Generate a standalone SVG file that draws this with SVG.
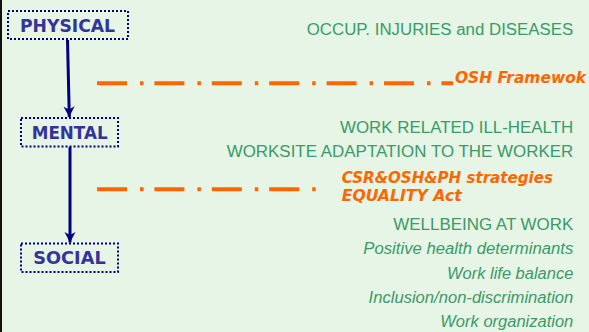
<svg xmlns="http://www.w3.org/2000/svg" width="589" height="332" viewBox="0 0 589 332">
<defs>
<style>
.box{fill:none;stroke:#000080;stroke-width:2;stroke-dasharray:2 2}
.lbl{font-family:"DejaVu Sans",Verdana,sans-serif;font-weight:bold;font-size:17px;fill:#333399}
.grn{font-family:"Liberation Sans",Arial,sans-serif;font-size:16.8px;fill:#3a9a68;text-anchor:end}
.it{font-style:italic}
.org{font-family:"DejaVu Sans",Verdana,sans-serif;font-weight:bold;font-style:italic;font-size:15px;fill:#ff6600}
.arrow{stroke:#000080;stroke-width:3;fill:none}
.dd{stroke:#ff6600;stroke-width:4;fill:none;stroke-dasharray:30 13 3.5 10.9}
</style>
<marker id="ah" markerWidth="12" markerHeight="12" viewBox="-11 -6 12 12" refX="0" refY="0" orient="auto" markerUnits="userSpaceOnUse">
<path d="M0,0 L-10.5,-5.5 L-7.5,0 L-10.5,5.5 Z" fill="#000080"/>
</marker>
</defs>
<rect x="0" y="0" width="589" height="332" fill="#e6f5e5"/>
<rect x="0" y="0" width="2" height="332" fill="#111"/>
<g id="connectors">
<line class="arrow" x1="67.5" y1="40" x2="69.3" y2="117" marker-end="url(#ah)"/>
<line class="arrow" x1="70" y1="147" x2="70" y2="242.5" marker-end="url(#ah)"/>
<line class="dd" x1="97" y1="83.3" x2="453" y2="83.3"/>
<line class="dd" x1="97" y1="189.3" x2="316" y2="189.3"/>
</g>
<g id="physical">
<rect class="box" x="8" y="11" width="120" height="28"/>
<text class="lbl" x="20" y="32.3" textLength="95" lengthAdjust="spacingAndGlyphs">PHYSICAL</text>
</g>
<g id="mental">
<rect class="box" x="21" y="118" width="97" height="28.5"/>
<text class="lbl" x="31.7" y="139" textLength="76" lengthAdjust="spacingAndGlyphs">MENTAL</text>
</g>
<g id="social">
<rect class="box" x="21" y="243.5" width="97" height="28.5"/>
<text class="lbl" x="33.3" y="264.3" textLength="72.4" lengthAdjust="spacingAndGlyphs">SOCIAL</text>
</g>
<g id="right-texts">
<text class="grn" x="573.3" y="35" textLength="266.6" lengthAdjust="spacingAndGlyphs">OCCUP. INJURIES and DISEASES</text>
<text class="org" x="455" y="82.7" textLength="131" lengthAdjust="spacingAndGlyphs">OSH Framewok</text>
<text class="grn" x="573.3" y="133.3" textLength="233.3" lengthAdjust="spacingAndGlyphs">WORK RELATED ILL-HEALTH</text>
<text class="grn" x="573.3" y="156.7" textLength="346.6" lengthAdjust="spacingAndGlyphs">WORKSITE ADAPTATION TO THE WORKER</text>
<text class="org" x="341.7" y="183.3" textLength="211.3" lengthAdjust="spacingAndGlyphs">CSR&amp;OSH&amp;PH strategies</text>
<text class="org" x="341.7" y="201" textLength="120" lengthAdjust="spacingAndGlyphs">EQUALITY Act</text>
<text class="grn" x="573.3" y="230" textLength="180" lengthAdjust="spacingAndGlyphs">WELLBEING AT WORK</text>
<text class="grn it" x="573.3" y="254.3" textLength="210" lengthAdjust="spacingAndGlyphs">Positive health determinants</text>
<text class="grn it" x="573.3" y="279" textLength="126.3" lengthAdjust="spacingAndGlyphs">Work life balance</text>
<text class="grn it" x="573.3" y="302.7" textLength="204.7" lengthAdjust="spacingAndGlyphs">Inclusion/non-discrimination</text>
<text class="grn it" x="573.3" y="327.3" textLength="133" lengthAdjust="spacingAndGlyphs">Work organization</text>
</g>
</svg>
